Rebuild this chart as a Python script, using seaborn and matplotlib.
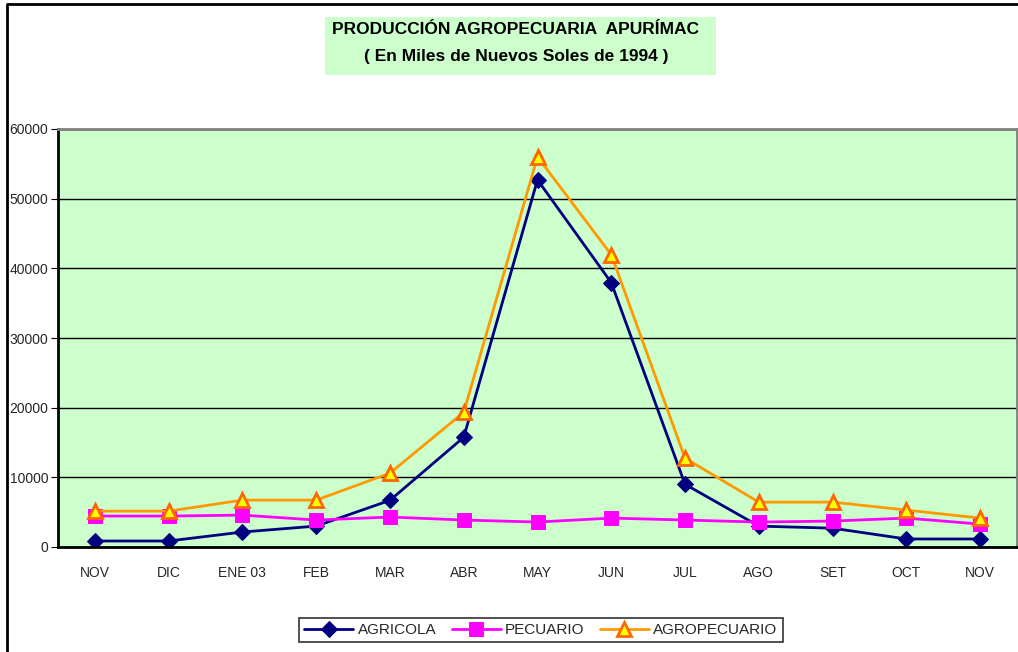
import matplotlib.pyplot as plt
import matplotlib.lines as mlines
import matplotlib.patches as mpatches
import seaborn as sns
import pandas as pd
import numpy as np

meses = ['NOV', 'DIC', 'ENE 03', 'FEB', 'MAR', 'ABR', 'MAY', 'JUN', 'JUL', 'AGO', 'SET', 'OCT', 'NOV']
agricola = [860, 860, 2150, 3000, 6700, 15750, 52700, 37950, 9000, 3000, 2700, 1150, 1150]
pecuario = [4440, 4440, 4580, 3870, 4300, 3870, 3580, 4150, 3870, 3580, 3720, 4150, 3290]
agropecuario = [5150, 5150, 6730, 6730, 10600, 19330, 56000, 41960, 12750, 6440, 6440, 5300, 4150]

sns.set_style('white')
plt.rcParams['font.family'] = ['Liberation Sans', 'DejaVu Sans']

df = pd.DataFrame({'pos': np.arange(len(meses)), 'AGRICOLA': agricola,
                   'PECUARIO': pecuario, 'AGROPECUARIO': agropecuario})

fig = plt.figure(figsize=(10.18, 6.52), dpi=100)
ax = fig.add_axes([58 / 1018, 1 - 547 / 652, 959 / 1018, 418 / 652])
ax.set_facecolor('#CCFFCC')

# series
sns.lineplot(data=df, x='pos', y='AGRICOLA', ax=ax, color='#000080', lw=2,
             marker='D', markersize=8.5, markeredgecolor='#000080', label='AGRICOLA')
sns.lineplot(data=df, x='pos', y='PECUARIO', ax=ax, color='#FF00FF', lw=2,
             marker='s', markersize=10, markeredgecolor='#FF00FF', label='PECUARIO')
sns.lineplot(data=df, x='pos', y='AGROPECUARIO', ax=ax, color='#FF9900', lw=2,
             marker='^', markersize=10, markerfacecolor='#FFFF00',
             markeredgecolor='#FF6600', markeredgewidth=2, label='AGROPECUARIO')

ax.set_xlim(-0.5, len(meses) - 0.5)
ax.set_ylim(0, 60000)
ax.set_yticks(range(0, 60001, 10000))
ax.set_yticklabels([str(v) for v in range(0, 60001, 10000)], fontsize=10)
ax.yaxis.grid(True, color='black', lw=1)
ax.set_axisbelow(True)

# month labels between the boundary tick marks
ax.set_xticks(np.arange(len(meses)))
ax.set_xticklabels(meses, fontsize=10)
ax.tick_params(axis='x', which='major', length=0, pad=14)
ax.set_xticks(np.arange(len(meses) + 1) - 0.5, minor=True)
ax.tick_params(axis='x', which='minor', length=5, direction='out', color='black')
ax.tick_params(axis='y', length=5, direction='out', color='black', left=True, pad=2)
ax.set_xlabel('')
ax.set_ylabel('')

for s in ['left', 'bottom']:
    ax.spines[s].set_color('black')
    ax.spines[s].set_linewidth(2)
for s in ['top', 'right']:
    ax.spines[s].set_color('#808080')
    ax.spines[s].set_linewidth(2)

ax.legend(loc='center', bbox_to_anchor=(541 / 1018, 1 - 630 / 652),
          bbox_transform=fig.transFigure, ncol=3, frameon=True, fancybox=False,
          edgecolor='black', fontsize=11, handlelength=3.2, handletextpad=0.3,
          columnspacing=1.0, borderpad=0.35)
ax.get_legend().get_frame().set_linewidth(1.2)

# title box
fig.patches.append(mpatches.Rectangle((325 / 1018, 1 - 75 / 652), 391 / 1018, 58 / 652,
                                      transform=fig.transFigure, facecolor='#CCFFCC',
                                      edgecolor='none', zorder=0))
fig.text(515 / 1018, 1 - 30 / 652, 'PRODUCCIÓN AGROPECUARIA  APURÍMAC',
         ha='center', va='center', fontsize=12.5, fontweight='bold', color='black')
fig.text(516 / 1018, 1 - 56 / 652, '( En Miles de Nuevos Soles de 1994 )',
         ha='center', va='center', fontsize=12.5, fontweight='bold', color='black')

# chart area border
fig.lines.append(mlines.Line2D([7 / 1018, 7 / 1018, 1], [0, 1 - 4 / 652, 1 - 4 / 652],
                               transform=fig.transFigure, color='black', lw=2))

fig.savefig('out.png', dpi=100)
